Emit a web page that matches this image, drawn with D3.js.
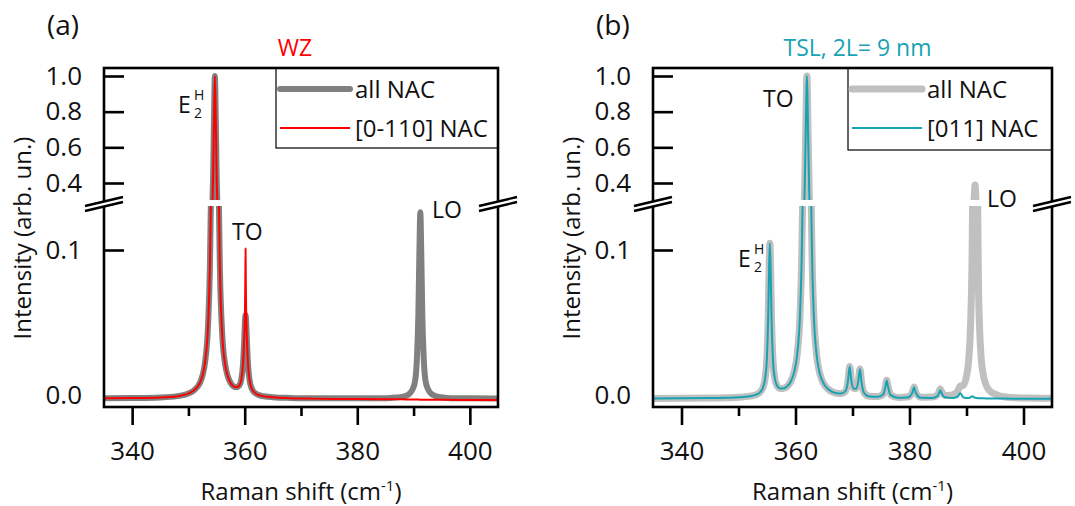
<!DOCTYPE html>
<html><head><meta charset="utf-8">
<script src="https://cdn.jsdelivr.net/npm/d3@7"></script>
<style>
body{margin:0;background:#fff}
text{font-family:"Open Sans",sans-serif;fill:#111}
</style>
</head><body>
<svg id="c" width="1075" height="506"></svg>
<script>
// ---------- data ----------
const xMajorTicks=[340,360,380,400];
const xMinorTicks=[350,370,390];
const yUpperTicks=[0.4,0.6,0.8,1.0];
const yLowerTicks=[0.0,0.1];

// Panel (a) WZ
const shiftA=[335,340,345,348,350,351,352,352.5,353,353.5,353.8,354,354.2,354.4,354.55,354.7,354.85,355,355.2,355.4,355.6,356,356.5,357,357.5,358,358.5,359,359.4,359.7,359.9,360.05,360.1,360.15,360.2,360.25,360.4,360.6,361,361.5,362,363,365,368,372,376,380,384,386,388,389,389.8,390.3,390.6,390.85,391.05,391.2,391.35,391.55,391.8,392.1,392.6,393.4,394.5,396,400,405];
const allNacA=[-0.0023,-0.0021,-0.0017,-0.0008,0.0010,0.0032,0.0081,0.0134,0.0239,0.0491,0.0858,0.1355,0.2365,0.4635,0.7745,1.0,0.7745,0.4635,0.2365,0.1355,0.0861,0.0422,0.0216,0.0128,0.0083,0.0060,0.0053,0.0064,0.0108,0.0213,0.0368,0.0510,0.0540,0.0551,0.0540,0.0508,0.0363,0.0204,0.0075,0.0027,0.0009,-0.0006,-0.0015,-0.0020,-0.0022,-0.0023,-0.0023,-0.0022,-0.0020,-0.0013,0.0001,0.0037,0.0103,0.0256,0.0552,0.1020,0.1260,0.1020,0.0552,0.0256,0.0103,0.0037,0.0001,-0.0013,-0.0020,-0.0023,-0.0024];
const nac0110A=[-0.0023,-0.0021,-0.0017,-0.0008,0.0010,0.0032,0.0081,0.0134,0.0239,0.0491,0.0858,0.1355,0.2365,0.4635,0.7745,1.0,0.7745,0.4635,0.2365,0.1355,0.0861,0.0422,0.0216,0.0128,0.0083,0.0060,0.0053,0.0064,0.0108,0.0218,0.0385,0.0600,0.0765,0.1010,0.0765,0.0598,0.0380,0.0209,0.0075,0.0027,0.0009,-0.0006,-0.0016,-0.0022,-0.0025,-0.0027,-0.0028,-0.0029,-0.0030,-0.0030,-0.0031,-0.0031,-0.0031,-0.0031,-0.0031,-0.0032,-0.0032,-0.0032,-0.0032,-0.0032,-0.0032,-0.0032,-0.0032,-0.0032,-0.0033,-0.0034,-0.0035];

// Panel (b) TSL
const shiftB=[335,340,345,348,350,352,353,353.8,354.3,354.7,355,355.2,355.35,355.5,355.65,355.8,356,356.3,356.7,357.2,357.8,358.5,359.2,359.8,360.3,360.8,361.1,361.4,361.6,361.8,361.9,362,362.1,362.2,362.4,362.6,362.9,363.2,363.7,364.3,365,366,367,368,368.8,369.2,369.5,369.8,370.2,370.6,371,371.3,371.6,372.1,373,374.5,375.4,375.8,376,376.2,376.7,378,379.8,380.5,380.8,381.1,382,384,384.9,385.2,385.4,385.6,386.2,387.5,388.4,388.9,389.4,389.9,390.4,390.7,391,391.2,391.35,391.5,391.65,391.8,392.1,392.5,393,394,395.5,398,401,405];
const nac011B=[-0.0024,-0.0023,-0.0021,-0.0019,-0.0016,-0.0008,0.0001,0.0020,0.0052,0.0121,0.0271,0.0519,0.0835,0.1046,0.0837,0.0522,0.0276,0.0132,0.0069,0.0046,0.0044,0.0058,0.0095,0.0163,0.0281,0.0566,0.0978,0.1978,0.3578,0.6898,0.8978,1.0,0.8978,0.6898,0.3578,0.1978,0.0978,0.0565,0.0278,0.0143,0.0075,0.0032,0.0014,0.0010,0.0028,0.0096,0.0196,0.0097,0.0045,0.0043,0.0090,0.0180,0.0084,0.0010,-0.0010,-0.0012,0.0005,0.0063,0.0100,0.0063,-0.0001,-0.0019,-0.0015,0.0016,0.0053,0.0016,-0.0019,-0.0020,-0.0008,0.0015,0.0032,0.0015,-0.0016,-0.0021,-0.0014,0.0012,-0.0014,-0.0020,-0.0020,-0.0016,-0.0008,-0.0013,-0.0017,-0.0019,-0.0020,-0.0021,-0.0022,-0.0023,-0.0023,-0.0024,-0.0024,-0.0025,-0.0025,-0.0025];
const allNacB=[-0.0024,-0.0023,-0.0021,-0.0019,-0.0016,-0.0008,0.0001,0.0020,0.0052,0.0121,0.0271,0.0519,0.0835,0.1046,0.0837,0.0522,0.0276,0.0132,0.0069,0.0046,0.0044,0.0058,0.0095,0.0163,0.0281,0.0566,0.0978,0.1978,0.3578,0.6898,0.8978,1.0,0.8978,0.6898,0.3578,0.1978,0.0978,0.0565,0.0278,0.0143,0.0075,0.0032,0.0014,0.0010,0.0028,0.0096,0.0196,0.0097,0.0045,0.0043,0.0090,0.0180,0.0084,0.0011,-0.0009,-0.0011,0.0006,0.0064,0.0101,0.0064,0.0001,-0.0017,-0.0012,0.0019,0.0056,0.0019,-0.0015,-0.0014,0.0000,0.0024,0.0041,0.0025,-0.0004,0.0001,0.0022,0.0063,0.0064,0.0113,0.0250,0.0465,0.1026,0.1937,0.3103,0.3881,0.3100,0.1929,0.0758,0.0299,0.0127,0.0031,-0.0002,-0.0017,-0.0021,-0.0023];

const legendA=["all NAC","[0-110] NAC"];
const legendB=["all NAC","[011] NAC"];

// ---------- drawing ----------
const svg=d3.select("#c");
const defs=svg.append("defs");
const TOP=68,BOTTOM=407,BREAK_U=200,BREAK_L=206;

function drawPanel(o){
  const g=svg.append("g");
  const x=d3.scaleLinear().domain([335,405]).range([o.left,o.right]);
  const yU=d3.scaleLinear().domain([0.4,1.0]).range([183,76]);
  const yL=d3.scaleLinear().domain([0,0.1]).range([395,250]);

  defs.append("clipPath").attr("id",o.id+"U").append("rect")
    .attr("x",o.left).attr("y",TOP-10).attr("width",o.right-o.left).attr("height",BREAK_U-TOP+10);
  defs.append("clipPath").attr("id",o.id+"L").append("rect")
    .attr("x",o.left).attr("y",BREAK_L).attr("width",o.right-o.left).attr("height",BOTTOM-BREAK_L);

  // y ticks (inward)
  const fmt=d3.format(".1f");
  [[yU,yUpperTicks],[yL,yLowerTicks]].forEach(([s,tv])=>{
    const ax=g.append("g").attr("transform",`translate(${o.left},0)`)
      .call(d3.axisLeft(s).tickValues(tv).tickSize(-20).tickPadding(22).tickFormat(fmt));
    ax.select(".domain").remove();
    ax.selectAll("line").attr("stroke","#000").attr("stroke-width",2.6)
      .attr("opacity",d=>d===0?0:1);
    ax.selectAll("text").style("font-size","26px").attr("fill","#111").style("font-family",'"Open Sans",sans-serif');
  });
  // x ticks (outward)
  const axM=g.append("g").attr("transform",`translate(0,${BOTTOM})`)
    .call(d3.axisBottom(x).tickValues(xMajorTicks).tickSize(18).tickPadding(17).tickFormat(d3.format("d")));
  axM.select(".domain").remove();
  axM.selectAll("line").attr("stroke","#000").attr("stroke-width",2.6);
  axM.selectAll("text").style("font-size","26px").attr("fill","#111").style("font-family",'"Open Sans",sans-serif');
  const axm=g.append("g").attr("transform",`translate(0,${BOTTOM})`)
    .call(d3.axisBottom(x).tickValues(xMinorTicks).tickSize(9).tickFormat(""));
  axm.select(".domain").remove();
  axm.selectAll("line").attr("stroke","#000").attr("stroke-width",2.6);

  // curves
  const series=[
    {xs:o.xs, ys:o.gray, color:o.grayColor, w:o.grayW},
    {xs:o.xs, ys:o.thin, color:o.thinColor, w:2}
  ];
  series.forEach(sr=>{
    const pts=sr.xs.map((v,i)=>[v,sr.ys[i]]);
    [["U",yU],["L",yL]].forEach(([k,ys])=>{
      const line=d3.line().x(d=>x(d[0])).y(d=>ys(d[1])).curve(d3.curveMonotoneX);
      g.append("path").attr("d",line(pts)).attr("clip-path",`url(#${o.id}${k})`)
        .attr("fill","none").attr("stroke",sr.color).attr("stroke-width",sr.w)
        .attr("stroke-linejoin","round").attr("stroke-linecap","round");
    });
  });

  // legend
  const lg=g.append("g");
  lg.append("rect").attr("x",o.legX).attr("y",TOP).attr("width",o.right-o.legX).attr("height",o.legH)
    .attr("fill","#fff").attr("stroke","#000").attr("stroke-width",1.2);
  const ly=[TOP+21,TOP+60];
  lg.append("line").attr("x1",o.legX+4).attr("x2",o.legX+74).attr("y1",ly[0]).attr("y2",ly[0])
    .attr("stroke",o.grayColor).attr("stroke-width",o.grayW).attr("stroke-linecap","round");
  lg.append("line").attr("x1",o.legX+4).attr("x2",o.legX+74).attr("y1",ly[1]).attr("y2",ly[1])
    .attr("stroke",o.thinColor).attr("stroke-width",2);
  o.legend.forEach((t,i)=>{
    lg.append("text").attr("x",o.legX+79).attr("y",ly[i]+9).style("font-size","24px").text(t);
  });

  // frame
  g.append("rect").attr("x",o.left).attr("y",TOP).attr("width",o.right-o.left).attr("height",BOTTOM-TOP)
    .attr("fill","none").attr("stroke","#000").attr("stroke-width",2.6);
  // axis breaks
  [o.left,o.right].forEach(cx=>{
    g.append("polygon").attr("points",`${cx-19},206 ${cx+19},197 ${cx+19},202 ${cx-19},211`).attr("fill","#fff");
    g.append("line").attr("x1",cx-19).attr("y1",206).attr("x2",cx+19).attr("y2",197).attr("stroke","#000").attr("stroke-width",2.4);
    g.append("line").attr("x1",cx-19).attr("y1",211).attr("x2",cx+19).attr("y2",202).attr("stroke","#000").attr("stroke-width",2.4);
  });

  // labels
  const cx=(o.left+o.right)/2;
  g.append("text").attr("x",o.left-57).attr("y",35).style("font-size","28px").text(o.tag);
  g.append("text").attr("x",cx+o.titleDx).attr("y",56).attr("text-anchor","middle").style("font-size","23px")
    .style("fill",o.titleColor).text(o.title);
  const xt=g.append("text").attr("x",cx).attr("y",500).attr("text-anchor","middle").style("font-size","24px");
  xt.append("tspan").text("Raman shift (cm");
  xt.append("tspan").attr("dy",-9).style("font-size","15px").text("-1");
  xt.append("tspan").attr("dy",9).text(")");
  g.append("text").attr("transform",`translate(${o.left-73},238) rotate(-90)`).attr("text-anchor","middle")
    .style("font-size","24px").text("Intensity (arb. un.)");

  // peak annotations
  o.notes.forEach(n=>{
    if(n.t==="E"){
      g.append("text").attr("x",n.x).attr("y",n.y).style("font-size","23px").text("E");
      g.append("text").attr("x",n.x+16).attr("y",n.y-13).style("font-size","14px").text("H");
      g.append("text").attr("x",n.x+16).attr("y",n.y+5).style("font-size","14px").text("2");
    } else {
      g.append("text").attr("x",n.x).attr("y",n.y).style("font-size","23px").text(n.t);
    }
  });
}

drawPanel({id:"pa",left:104,right:498,xs:shiftA,gray:allNacA,thin:nac0110A,
  grayColor:"#808080",grayW:6,thinColor:"#ff0000",legX:276,legH:80,legend:legendA,
  tag:"(a)",title:"WZ",titleColor:"#ff0000",titleDx:-6,
  notes:[{t:"E",x:178,y:113},{t:"TO",x:232,y:240},{t:"LO",x:432,y:218}]});
drawPanel({id:"pb",left:653,right:1052,xs:shiftB,gray:allNacB,thin:nac011B,
  grayColor:"#c0c0c0",grayW:7,thinColor:"#17a3b3",legX:848,legH:82,legend:legendB,
  tag:"(b)",title:"TSL, 2L= 9 nm",titleColor:"#17a3b3",titleDx:5,
  notes:[{t:"TO",x:763,y:107},{t:"E",x:738,y:267},{t:"LO",x:987,y:207}]});
</script>
</body></html>
